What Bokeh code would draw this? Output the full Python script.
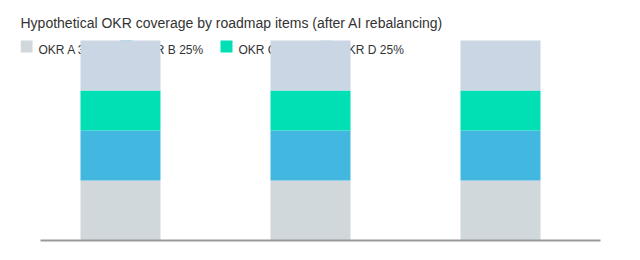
from bokeh.plotting import figure
from bokeh.models import ColumnDataSource, Range1d, BoxAnnotation, Label, FixedTicker
from bokeh.embed import file_html
from bokeh.resources import INLINE

items = ["Item 1", "Item 2", "Item 3"]
okrs = ["OKR A", "OKR B", "OKR C", "OKR D"]
okr_a = [30, 30, 30]
okr_b = [25, 25, 25]
okr_c = [20, 20, 20]
okr_d = [25, 25, 25]
shares = [30, 25, 20, 25]
colors = ["#d0d8dc", "#42b8e0", "#00e0b4", "#cbd6e4"]

src = ColumnDataSource(dict(x=list(range(len(items))), a=okr_a, b=okr_b, c=okr_c, d=okr_d))

p = figure(width=640, height=260, output_backend="svg", toolbar_location=None,
           x_range=Range1d(-0.5263, 2.5263), y_range=Range1d(0, 101),
           min_border_left=20, min_border_right=40, min_border_top=38, min_border_bottom=20)
p.title.text = "Hypothetical OKR coverage by roadmap items (after AI rebalancing)"
p.title.text_font = "Liberation Sans"
p.title.text_font_size = "14px"
p.title.text_font_style = "normal"
p.title.text_color = "#333333"
p.title.offset = 0
p.title.standoff = 16

# legend drawn underneath the bars
for i, (name, share, col) in enumerate(zip(okrs, shares, colors)):
    x0 = i * 100
    p.add_layout(BoxAnnotation(left=x0, right=x0 + 12, bottom=188, top=200,
                               left_units="screen", right_units="screen",
                               bottom_units="screen", top_units="screen",
                               fill_color=col, fill_alpha=1, line_color=None, level="underlay"))
    p.add_layout(Label(x=x0 + 18, y=190.5, x_units="screen", y_units="screen",
                       text=f"{name} {share}%", text_font="Liberation Sans", text_font_size="12px",
                       text_color="#333333", text_baseline="alphabetic", level="underlay"))

p.vbar_stack(["a", "b", "c", "d"], x="x", width=0.42105, color=colors, line_width=0, source=src)

p.yaxis.visible = False
p.xaxis.bounds = (-0.42105, 2.5263)
p.xaxis.ticker = FixedTicker(ticks=[])
p.xaxis.axis_line_color = "#999999"
p.xaxis.axis_line_width = 2
p.xaxis.major_tick_line_color = None
p.xaxis.minor_tick_line_color = None
p.xgrid.visible = False
p.ygrid.visible = False
p.outline_line_color = None

open("out.html", "w").write(file_html(p, INLINE))
